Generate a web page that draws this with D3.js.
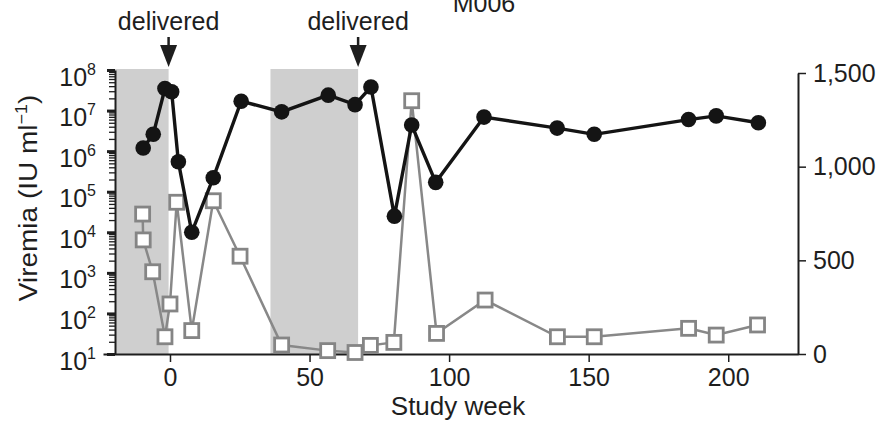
<!DOCTYPE html>
<html><head><meta charset="utf-8">
<script src="https://cdn.jsdelivr.net/npm/d3@7"></script>
<style>
html,body{margin:0;padding:0;background:#fff;}
svg{display:block;font-family:"Liberation Sans",Arial,sans-serif;}
</style></head>
<body>
<svg id="chart" width="883" height="422"></svg>
<script>
// ---- data ----
const viremiaWeeks = [-9.6, -6, -1.8, 0.6, 3, 7.8, 15.5, 25.5, 40, 56.7, 66.3, 72, 80.4, 86.6, 95.2, 112.5, 138.7, 152, 185.8, 195.7, 210.8];
const viremiaValues = [1.2e6, 2.6e6, 3.5e7, 2.9e7, 5.5e5, 1.0e4, 2.2e5, 1.7e7, 9.3e6, 2.4e7, 1.4e7, 3.8e7, 2.5e4, 4.4e6, 1.7e5, 6.9e6, 3.7e6, 2.6e6, 6.0e6, 7.4e6, 5.0e6];
const countWeeks = [-9.8, -9.6, -6.2, -1.8, 0, 2.4, 7.8, 15.5, 25.1, 40, 56.5, 66.3, 71.8, 80.2, 86.6, 95.5, 112.9, 138.8, 152, 185.8, 195.7, 210.5];
const countValues = [747, 609, 439, 92, 267, 810, 125, 818, 522, 48, 18, 8, 46, 62, 1352, 110, 288, 92, 92, 137, 101, 155];
const shadedPeriods = [[-19.7, -0.5], [36, 67.4]];
const deliveredWeeks = [-0.5, 67.4];
const xTicks = [0, 50, 100, 150, 200];
const leftMajorTicks = [1e1, 1e2, 1e3, 1e4, 1e5, 1e6, 1e7, 1e8];
const rightTicks = [0, 500, 1000, 1500];
const titleText = "M006";
const deliveredText = "delivered";
const xLabel = "Study week";

// ---- scales ----
const svg = d3.select("#chart");
const x = d3.scaleLinear().domain([-24, 225]).range([103, 798]);
const yL = d3.scaleLog().domain([1e1, 1e8]).range([354, 70]);
const yR = d3.scaleLinear().domain([0, 1500]).range([354, 73]);
const leftX = x(-19.7);
const rightX = x(225);
const textColor = "#1e1e1e";
const fs = 25;

// shading
svg.append("g").selectAll("rect").data(shadedPeriods).join("rect")
  .attr("x", d => x(d[0])).attr("width", d => x(d[1]) - x(d[0]))
  .attr("y", yL(1e8) - 1).attr("height", yL(1e1) - yL(1e8) + 1)
  .attr("fill", "#cfcfcf");

// x axis
const xAxis = svg.append("g").attr("transform", "translate(0,354)")
  .call(d3.axisBottom(x).tickValues(xTicks).tickSize(8).tickSizeOuter(0).tickPadding(6));
xAxis.select(".domain").attr("stroke", textColor).attr("stroke-width", 2);
xAxis.selectAll(".tick line").attr("stroke", textColor).attr("stroke-width", 1.5);
xAxis.selectAll("text").attr("font-size", fs).attr("fill", textColor).attr("font-family", "Liberation Sans, Arial, sans-serif");

// left minor ticks
const minorTicks = [];
for (let e = 1; e < 8; e++) for (let m = 2; m <= 9; m++) minorTicks.push(m * Math.pow(10, e));
const lMinor = svg.append("g").attr("transform", `translate(${leftX},0)`)
  .call(d3.axisLeft(yL).tickValues(minorTicks).tickSize(6).tickSizeOuter(0).tickFormat(""));
lMinor.select(".domain").attr("stroke", textColor).attr("stroke-width", 2);
lMinor.selectAll(".tick line").attr("stroke", textColor).attr("stroke-width", 1.3);

// left major ticks
const lMajor = svg.append("g").attr("transform", `translate(${leftX},0)`)
  .call(d3.axisLeft(yL).tickValues(leftMajorTicks).tickSize(8).tickSizeOuter(0).tickFormat(""));
lMajor.select(".domain").remove();
lMajor.selectAll(".tick line").attr("stroke", textColor).attr("stroke-width", 3);
lMajor.selectAll(".tick").each(function(d) {
  const t = d3.select(this).append("text")
    .attr("x", -19).attr("y", 15).attr("text-anchor", "end")
    .attr("fill", textColor).attr("font-size", fs);
  t.append("tspan").text("10");
  t.append("tspan").attr("dy", -11).attr("font-size", 16).text(Math.round(Math.log10(d)));
});

// right axis
const rAxis = svg.append("g").attr("transform", `translate(${rightX},0)`)
  .call(d3.axisRight(yR).tickValues(rightTicks).tickSize(8).tickSizeOuter(0).tickPadding(7).tickFormat(d3.format(",")));
rAxis.select(".domain").attr("stroke", textColor).attr("stroke-width", 2);
rAxis.selectAll(".tick line").attr("stroke", textColor).attr("stroke-width", 1.5);
rAxis.selectAll("text").attr("font-size", fs).attr("fill", textColor).attr("font-family", "Liberation Sans, Arial, sans-serif");

// gray series (squares)
const countData = countWeeks.map((w, i) => [w, countValues[i]]);
svg.append("path").datum(countData)
  .attr("d", d3.line().x(d => x(d[0])).y(d => yR(d[1])))
  .attr("fill", "none").attr("stroke", "#888").attr("stroke-width", 2.5);
const sq = 14;
svg.append("g").selectAll("rect").data(countData).join("rect")
  .attr("x", d => x(d[0]) - sq / 2).attr("y", d => yR(d[1]) - sq / 2)
  .attr("width", sq).attr("height", sq)
  .attr("fill", "#fff").attr("stroke", "#858585").attr("stroke-width", 2.8);

// black series (circles)
const virData = viremiaWeeks.map((w, i) => [w, viremiaValues[i]]);
svg.append("path").datum(virData)
  .attr("d", d3.line().x(d => x(d[0])).y(d => yL(d[1])))
  .attr("fill", "none").attr("stroke", "#141414").attr("stroke-width", 3.4);
svg.append("g").selectAll("circle").data(virData).join("circle")
  .attr("cx", d => x(d[0])).attr("cy", d => yL(d[1])).attr("r", 7.8)
  .attr("fill", "#141414");

// delivered arrows
const arr = svg.append("g").selectAll("g").data(deliveredWeeks).join("g")
  .attr("transform", d => `translate(${x(d)},0)`);
arr.append("line").attr("x1", 0).attr("x2", 0).attr("y1", 37).attr("y2", 47)
  .attr("stroke", textColor).attr("stroke-width", 2.5);
arr.append("path").attr("d", "M-8.5,45L8.5,45L0,67Z").attr("fill", textColor);
arr.append("text").attr("y", 30).attr("text-anchor", "middle")
  .attr("font-size", fs).attr("fill", textColor).text(deliveredText);

// title (partially cut at top, as in the reference)
svg.append("text").attr("x", 484).attr("y", 12).attr("text-anchor", "middle")
  .attr("font-size", fs).attr("fill", textColor).text(titleText);

// x label
svg.append("text").attr("x", 458).attr("y", 415).attr("text-anchor", "middle")
  .attr("font-size", fs + 1).attr("fill", textColor).text(xLabel);

// y label
const yl = svg.append("text")
  .attr("transform", "translate(37,198) rotate(-90) scale(1.12,1)")
  .attr("text-anchor", "middle").attr("font-size", fs).attr("fill", textColor);
yl.append("tspan").text("Viremia (IU ml");
yl.append("tspan").attr("dy", -10).attr("font-size", 16).text("\u22121");
yl.append("tspan").attr("dy", 10).text(")");
</script>
</body></html>
